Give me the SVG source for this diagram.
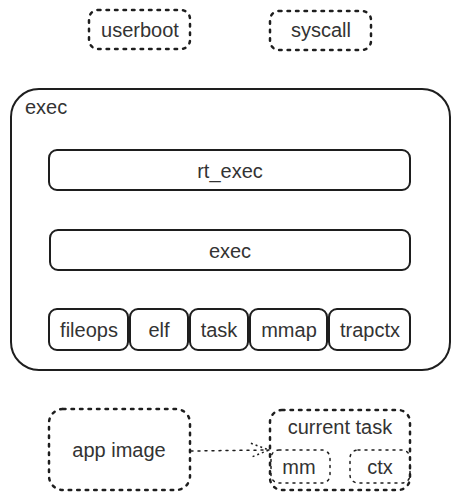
<svg xmlns="http://www.w3.org/2000/svg" width="460" height="500" viewBox="0 0 460 500">
  <style>
    .solid { fill: none; stroke: #1e1e1e; stroke-width: 2; }
    .dots { fill: none; stroke: #1e1e1e; stroke-width: 2.5; stroke-dasharray: 2.5 6; stroke-linecap: round; }
    .fine { fill: none; stroke: #1e1e1e; stroke-width: 1.5; stroke-dasharray: 2 5; stroke-linecap: round; }
    text { font-family: "Liberation Sans", Arial, sans-serif; font-size: 20px; fill: #333333; text-anchor: middle; dominant-baseline: central; }
  </style>
  <defs>
    <marker id="open-arrow" viewBox="0 0 20 20" refX="19" refY="10" markerWidth="20" markerHeight="20" markerUnits="userSpaceOnUse" orient="auto">
      <path d="M1 3 L19 10 L1 17" fill="none" stroke="#1e1e1e" stroke-width="1.5" stroke-dasharray="2 3"/>
    </marker>
  </defs>
  <rect width="460" height="500" fill="#ffffff"/>

  <g id="userboot">
    <rect class="dots" x="89" y="10" width="101" height="39" rx="9"/>
    <text x="140" y="30">userboot</text>
  </g>
  <g id="syscall">
    <rect class="dots" x="270" y="11" width="101" height="39" rx="9"/>
    <text x="321" y="30">syscall</text>
  </g>

  <g id="exec-module">
    <rect class="solid" x="11" y="89" width="439" height="281" rx="28"/>
    <text x="25" y="107" style="text-anchor:start">exec</text>
  </g>
  <g id="rt_exec">
    <rect class="solid" x="49" y="150" width="361" height="40" rx="8"/>
    <text x="230" y="171">rt_exec</text>
  </g>
  <g id="exec">
    <rect class="solid" x="50" y="230" width="360" height="40" rx="8"/>
    <text x="230" y="251">exec</text>
  </g>
  <g id="fileops">
    <rect class="solid" x="49" y="309" width="79" height="41" rx="8"/>
    <text x="89" y="330">fileops</text>
  </g>
  <g id="elf">
    <rect class="solid" x="130" y="309" width="58" height="41" rx="8"/>
    <text x="159" y="330">elf</text>
  </g>
  <g id="task">
    <rect class="solid" x="190" y="309" width="58" height="41" rx="8"/>
    <text x="219" y="330">task</text>
  </g>
  <g id="mmap">
    <rect class="solid" x="250" y="309" width="77" height="41" rx="8"/>
    <text x="289" y="330">mmap</text>
  </g>
  <g id="trapctx">
    <rect class="solid" x="329" y="309" width="81" height="41" rx="8"/>
    <text x="370" y="330">trapctx</text>
  </g>

  <g id="app-image">
    <rect class="dots" x="49" y="409" width="141" height="81" rx="14"/>
    <text x="119" y="450">app image</text>
  </g>
  <g id="current-task">
    <rect class="dots" x="270" y="410" width="140" height="80" rx="12"/>
    <text x="340" y="427">current task</text>
  </g>
  <g id="mm">
    <rect class="fine" x="271" y="450" width="59" height="33" rx="8"/>
    <text x="299" y="467">mm</text>
  </g>
  <g id="ctx">
    <rect class="fine" x="350" y="450" width="60" height="33" rx="8"/>
    <text x="380" y="467">ctx</text>
  </g>

  <g id="connectors">
    <line class="fine" x1="191" y1="451" x2="269" y2="450" marker-end="url(#open-arrow)"/>
  </g>
</svg>
